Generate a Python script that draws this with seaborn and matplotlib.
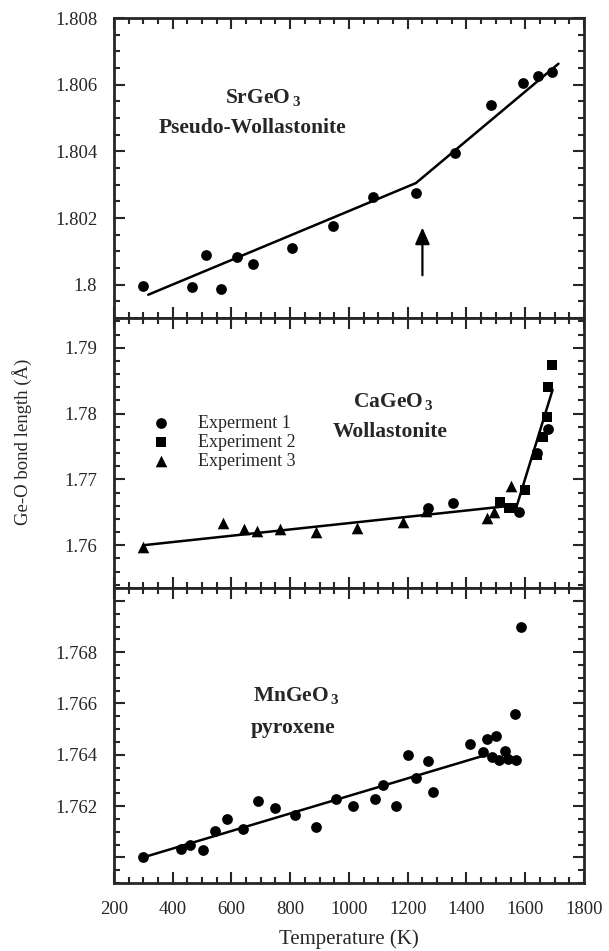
import matplotlib
matplotlib.use("Agg")
import matplotlib.pyplot as plt
from matplotlib.ticker import MultipleLocator, FuncFormatter
import seaborn as sns

# SrGeO3 pseudo-wollastonite
sr_T = [300, 465, 513, 563, 618, 672, 805, 945, 1083, 1228, 1362, 1483, 1591, 1645, 1690]
sr_len = [1.79995, 1.79992, 1.80088, 1.79986, 1.80083, 1.80061, 1.80111, 1.80175,
          1.80262, 1.80274, 1.80395, 1.80539, 1.80605, 1.80627, 1.80637]
sr_fit_T = [317, 1228, 1713]
sr_fit_len = [1.7997, 1.80305, 1.80663]
arrow_T = 1250
arrow_len = (1.8002, 1.8018)

# CaGeO3 wollastonite, three runs
ca_exp1_T = [1270, 1355, 1579, 1640, 1679]
ca_exp1_len = [1.7657, 1.7664, 1.7651, 1.7740, 1.7777]
ca_exp2_T = [1514, 1546, 1558, 1600, 1639, 1662, 1673, 1679, 1692]
ca_exp2_len = [1.7666, 1.7656, 1.7656, 1.7684, 1.7737, 1.7765, 1.7795, 1.7841, 1.7873]
ca_exp3_T = [300, 572, 643, 688, 765, 888, 1026, 1183, 1262, 1469, 1495, 1550]
ca_exp3_len = [1.7598, 1.7633, 1.7624, 1.7622, 1.7624, 1.7620, 1.7626, 1.7636,
               1.7652, 1.7641, 1.7650, 1.7690]
ca_fit_T = [300, 1572, 1693]
ca_fit_len = [1.7600, 1.7661, 1.7836]
legend_labels = ["Experment 1", "Experiment 2", "Experiment 3"]

# MnGeO3 pyroxene
mn_T = [300, 428, 459, 502, 544, 586, 640, 689, 748, 816, 888, 955, 1015, 1089, 1117,
        1160, 1202, 1227, 1270, 1287, 1412, 1457, 1469, 1499, 1486, 1511, 1531, 1542,
        1567, 1565, 1585]
mn_len = [1.7600, 1.76034, 1.76047, 1.76027, 1.76103, 1.76149, 1.76109, 1.76220,
          1.76191, 1.76165, 1.76119, 1.76226, 1.76200, 1.76227, 1.76282, 1.76200,
          1.76400, 1.76311, 1.76374, 1.76256, 1.76442, 1.76409, 1.76462, 1.76475,
          1.76391, 1.76378, 1.76413, 1.76383, 1.76378, 1.76560, 1.76897]
mn_fit_T = [300, 1457]
mn_fit_len = [1.7600, 1.76396]

sns.set_style("ticks")
plt.rcParams['font.family'] = ['Liberation Serif']
plt.rcParams['mathtext.fontset'] = 'custom'
plt.rcParams['mathtext.rm'] = 'Liberation Serif'
plt.rcParams['mathtext.bf'] = 'Liberation Serif:bold'

fig, axes = plt.subplots(3, 1, figsize=(6.09, 9.51), dpi=100, sharex=True,
                         gridspec_kw=dict(height_ratios=[300, 270, 295], hspace=0))
fig.subplots_adjust(left=0.187, right=0.959, top=0.981, bottom=0.0715)
ax1, ax2, ax3 = axes

pt = dict(color='k', edgecolor='k', linewidth=0)
fit = dict(color='k', lw=1.8, sort=False, estimator=None)
title_kw = dict(ha='center', va='center', fontsize=15.5, fontweight='bold')

# top panel
sns.scatterplot(x=sr_T, y=sr_len, ax=ax1, marker='o', s=60, **pt)
sns.lineplot(x=sr_fit_T, y=sr_fit_len, ax=ax1, **fit)
ax1.annotate("", xy=(arrow_T, arrow_len[1]), xytext=(arrow_T, arrow_len[0]),
             arrowprops=dict(arrowstyle='-|>,head_length=0.5,head_width=0.22',
                             color='k', lw=1.6, mutation_scale=20))
ax1.set_ylim(1.799, 1.808)
ax1.yaxis.set_major_locator(MultipleLocator(0.002))
ax1.yaxis.set_minor_locator(MultipleLocator(0.0005))
ax1.yaxis.set_major_formatter(FuncFormatter(lambda v, p: '%g' % round(v, 4)))
ax1.text(0.317, 0.733, r'SrGeO$_{\,\mathbf{3}}$', transform=ax1.transAxes, **title_kw)
ax1.text(0.294, 0.633, 'Pseudo-Wollastonite', transform=ax1.transAxes, **title_kw)

# middle panel
sns.scatterplot(x=ca_exp1_T, y=ca_exp1_len, ax=ax2, marker='o', s=60,
                label=legend_labels[0], **pt)
sns.scatterplot(x=ca_exp2_T, y=ca_exp2_len, ax=ax2, marker='s', s=55,
                label=legend_labels[1], **pt)
sns.scatterplot(x=ca_exp3_T, y=ca_exp3_len, ax=ax2, marker='^', s=70,
                label=legend_labels[2], **pt)
sns.lineplot(x=ca_fit_T, y=ca_fit_len, ax=ax2, **fit)
ax2.set_ylim(1.7535, 1.7945)
ax2.yaxis.set_major_locator(MultipleLocator(0.01))
ax2.yaxis.set_minor_locator(MultipleLocator(0.002))
ax2.yaxis.set_major_formatter(FuncFormatter(lambda v, p: '%g' % round(v, 4)))
ax2.legend(loc='upper left', bbox_to_anchor=(0.082, 0.64), frameon=False, fontsize=13,
           handlelength=1, handletextpad=1.5, labelspacing=0.1, borderpad=0,
           borderaxespad=0)
ax2.text(0.594, 0.689, r'CaGeO$_{\,\mathbf{3}}$', transform=ax2.transAxes, **title_kw)
ax2.text(0.587, 0.578, 'Wollastonite', transform=ax2.transAxes, **title_kw)

# bottom panel
sns.scatterplot(x=mn_T, y=mn_len, ax=ax3, marker='o', s=60, **pt)
sns.lineplot(x=mn_fit_T, y=mn_fit_len, ax=ax3, **fit)
ax3.set_ylim(1.759, 1.7705)
ax3.yaxis.set_major_locator(MultipleLocator(0.002))
ax3.yaxis.set_minor_locator(MultipleLocator(0.0005))
ax3.yaxis.set_major_formatter(
    FuncFormatter(lambda v, p: '%g' % round(v, 4) if 1.761 < v < 1.769 else ''))
ax3.text(0.389, 0.632, r'MnGeO$_{\,\mathbf{3}}$', transform=ax3.transAxes, **title_kw)
ax3.text(0.381, 0.525, 'pyroxene', transform=ax3.transAxes, **title_kw)

for ax in axes:
    ax.set_xlim(200, 1800)
    ax.xaxis.set_major_locator(MultipleLocator(200))
    ax.xaxis.set_minor_locator(MultipleLocator(50))
    ax.tick_params(which='both', direction='in', top=True, right=True, width=1.5,
                   labelsize=13.5)
    ax.tick_params(which='major', length=8)
    ax.tick_params(which='minor', length=4.5)
    ax.tick_params(axis='y', pad=12)
    ax.tick_params(axis='x', pad=13)
    for s in ax.spines.values():
        s.set_linewidth(2)
    ax.set_xlabel('')
    ax.set_ylabel('')

ax3.set_xlabel('Temperature (K)', fontsize=15, labelpad=8)
fig.text(22 / 609, 1 - 442 / 951, 'Ge-O bond length (Å)', rotation=90,
         ha='center', va='center', fontsize=13.5)

fig.savefig('out.png', dpi=100)
